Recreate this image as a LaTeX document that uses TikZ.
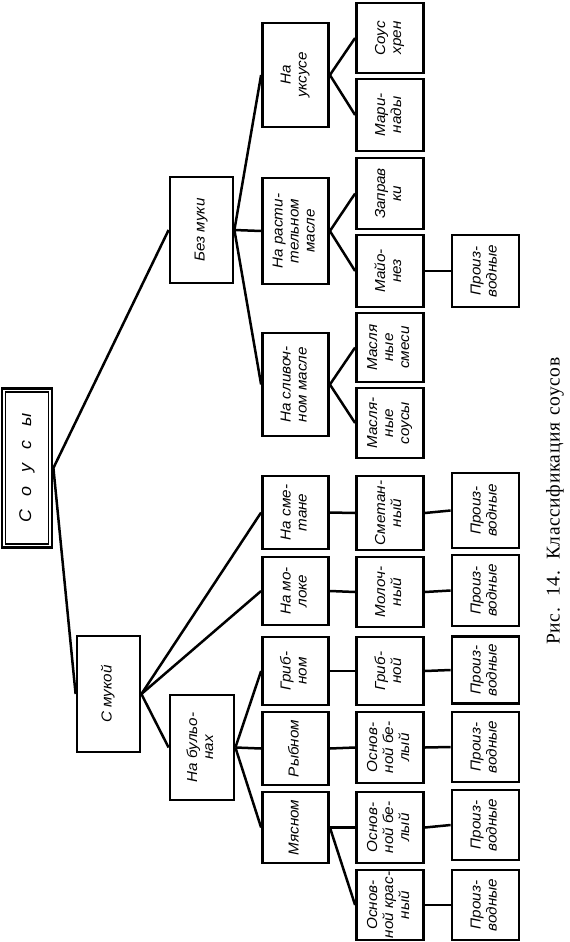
\documentclass[tikz,border=0pt]{standalone}
\usepackage{graphicx}
\usepackage{fontspec}
\setmainfont{Liberation Serif}
\newfontfamily\lab[FakeStretch=1.05]{Liberation Sans}
\usetikzlibrary{calc}
\newcommand{\rt}[1]{\rotatebox{90}{\begin{tabular}{@{}c@{}}#1\end{tabular}}}
\tikzset{
  box/.style={draw, line width=2.8pt, inner sep=0pt, minimum width=66pt,
    font=\lab\itshape\fontsize{14.5}{16}\selectfont},
  conn/.style={line width=2.5pt},
}
\begin{document}
\begin{tikzpicture}[x=1pt,y=-1pt]
\useasboundingbox (0,0) rectangle (570,942);
% root
\node[draw, line width=2.8pt, inner sep=0pt, minimum width=50pt, minimum height=159pt,
  font=\lab\itshape\fontsize{17}{18}\selectfont] (root) at (27,468)
  {\rotatebox{90}{С\hspace{14pt}о\hspace{14pt}у\hspace{14pt}с\hspace{14pt}ы}};
\draw[line width=1.6pt] ($(root.north west)+(5,5)$) rectangle ($(root.south east)+(-5,-5)$);
% level 1
\node[box, minimum width=63pt, minimum height=116pt] (smuk) at (108.5,694) {\rt{С мукой}};
\node[box, minimum width=63pt, minimum height=106pt] (bez) at (201.5,230) {\rt{Без муки}};
% level 2
\node[box, minimum width=64pt, minimum height=105pt] (bul) at (202,747.5) {\rt{На бульо-\\нах}};
\node[box, minimum height=104pt] (uks) at (295.5,75) {\rt{На\\уксусе}};
\node[box, minimum height=106pt] (rast) at (295.5,231) {\rt{На расти-\\тельном\\масле}};
\node[box, minimum height=103pt] (sliv) at (295.5,384.5) {\rt{На сливоч-\\ном масле}};
\node[box, minimum height=73pt] (nsm) at (295.5,512.5) {\rt{На сме-\\тане}};
\node[box, minimum height=68pt] (nmol) at (295.5,591) {\rt{На мо-\\локе}};
\node[box, minimum height=68pt] (grb) at (295.5,671) {\rt{Гриб-\\ном}};
\node[box, minimum height=73pt] (ryb) at (295.5,748.5) {\rt{Рыбном}};
\node[box, minimum height=71pt] (mya) at (295.5,827.5) {\rt{Мясном}};
% level 3
\node[box, minimum width=67pt, minimum height=70pt] (hren) at (390,38) {\rt{Соус\\хрен}};
\node[box, minimum width=67pt, minimum height=72pt] (mar) at (390,115) {\rt{Мари-\\нады}};
\node[box, minimum width=67pt, minimum height=71pt] (zap) at (390,193.5) {\rt{Заправ\\ки}};
\node[box, minimum width=67pt, minimum height=72pt] (may) at (390,271) {\rt{Майо-\\нез}};
\node[box, minimum width=67pt, minimum height=69pt] (msm) at (390,347.5) {\rt{Масля\\ные\\смеси}};
\node[box, minimum width=67pt, minimum height=70pt] (mso) at (390,423) {\rt{Масля-\\ные\\соусы}};
\node[box, minimum width=67pt, minimum height=74pt] (smet) at (390,513) {\rt{Сметан-\\ный}};
\node[box, minimum width=67pt, minimum height=70pt] (mol) at (390,592) {\rt{Молоч-\\ный}};
\node[box, minimum width=67pt, minimum height=68pt] (grn) at (390,671) {\rt{Гриб-\\ной}};
\node[box, minimum width=67pt, minimum height=71pt] (ob1) at (390,747.5) {\rt{Основ-\\ной бе-\\лый}};
\node[box, minimum width=67pt, minimum height=71pt] (ob2) at (390,827.5) {\rt{Основ-\\ной бе-\\лый}};
\node[box, minimum width=67pt, minimum height=70pt] (okr) at (390,905) {\rt{Основ-\\ной крас-\\ный}};
% level 4
\node[box, minimum width=67pt, minimum height=72pt] (p1) at (485.5,271) {\rt{Произ-\\водные}};
\node[box, minimum width=67pt, minimum height=75pt] (p2) at (485.5,510.5) {\rt{Произ-\\водные}};
\node[box, minimum width=67pt, minimum height=71pt] (p3) at (485.5,590.5) {\rt{Произ-\\водные}};
\node[box, minimum width=67pt, minimum height=67pt] (p4) at (485.5,670) {\rt{Произ-\\водные}};
\node[box, minimum width=67pt, minimum height=70pt] (p5) at (485.5,747) {\rt{Произ-\\водные}};
\node[box, minimum width=67pt, minimum height=70pt] (p6) at (485.5,825) {\rt{Произ-\\водные}};
\node[box, minimum width=67pt, minimum height=70pt] (p7) at (485.5,905) {\rt{Произ-\\водные}};
% connectors
\draw[conn] (root.east) -- (bez.west);
\draw[conn] (root.east) -- (smuk.west);
\draw[conn] (bez.east) -- (uks.west);
\draw[conn] (bez.east) -- (rast.west);
\draw[conn] (bez.east) -- (sliv.west);
\draw[conn] (smuk.east) -- (nsm.west);
\draw[conn] (smuk.east) -- (nmol.west);
\draw[conn] (smuk.east) -- (bul.west);
\draw[conn] (bul.east) -- (grb.west);
\draw[conn] (bul.east) -- (ryb.west);
\draw[conn] (bul.east) -- (mya.west);
\draw[conn] (uks.east) -- (hren.west);
\draw[conn] (uks.east) -- (mar.west);
\draw[conn] (rast.east) -- (zap.west);
\draw[conn] (rast.east) -- (may.west);
\draw[conn] (sliv.east) -- (msm.west);
\draw[conn] (sliv.east) -- (mso.west);
\draw[conn] (nsm.east) -- (smet.west);
\draw[conn] (nmol.east) -- (mol.west);
\draw[conn] (grb.east) -- (grn.west);
\draw[conn] (ryb.east) -- (ob1.west);
\draw[conn] (mya.east) -- (ob2.west);
\draw[conn] (mya.east) -- (okr.west);
\draw[conn] (may.east) -- (p1.west);
\draw[conn] (smet.east) -- (p2.west);
\draw[conn] (mol.east) -- (p3.west);
\draw[conn] (grn.east) -- (p4.west);
\draw[conn] (ob1.east) -- (p5.west);
\draw[conn] (ob2.east) -- (p6.west);
\draw[conn] (okr.east) -- (p7.west);
% caption
\node[rotate=90, inner sep=0pt, font=\fontsize{19.5}{22}\selectfont\addfontfeatures{LetterSpace=3}] (cap) at (555,501)
  {Рис.\hspace{4pt} 14.\hspace{4pt} Классификация\hspace{2pt} соусов};
\end{tikzpicture}
\end{document}
